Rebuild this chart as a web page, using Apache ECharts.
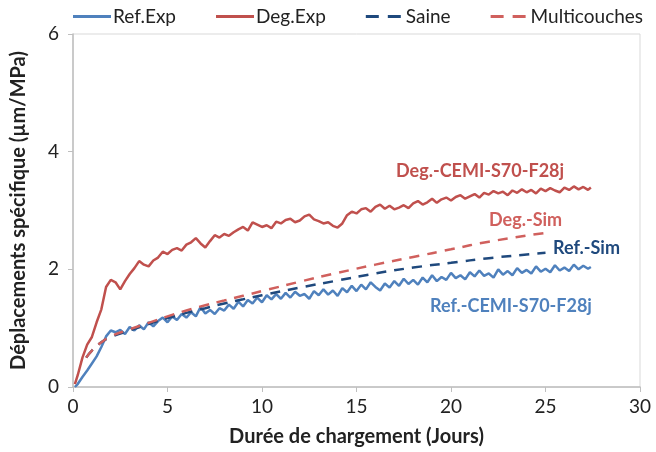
<!DOCTYPE html>
<html>
<head>
<meta charset="utf-8">
<script src="https://cdn.jsdelivr.net/npm/echarts@6/dist/echarts.min.js"></script>
<style>html,body{margin:0;padding:0;background:#fff;}#c{width:656px;height:452px;}</style>
</head>
<body>
<div id="c"></div>
<script>
// Experimental time grid (days)
const expDays = [0.1,0.25,0.5,0.75,1,1.25,1.5,1.75,2,2.25,2.5,2.75,3,3.25,3.5,3.75,4,4.25,4.5,4.75,5,5.25,5.5,5.75,6,6.25,6.5,6.75,7,7.25,7.5,7.75,8,8.25,8.5,8.75,9,9.25,9.5,9.75,10,10.25,10.5,10.75,11,11.25,11.5,11.75,12,12.25,12.5,12.75,13,13.25,13.5,13.75,14,14.25,14.5,14.75,15,15.25,15.5,15.75,16,16.25,16.5,16.75,17,17.25,17.5,17.75,18,18.25,18.5,18.75,19,19.25,19.5,19.75,20,20.25,20.5,20.75,21,21.25,21.5,21.75,22,22.25,22.5,22.75,23,23.25,23.5,23.75,24,24.25,24.5,24.75,25,25.25,25.5,25.75,26,26.25,26.5,26.75,27,27.25,27.4];
const refExp = [0.0,0.05,0.17,0.28,0.4,0.52,0.68,0.86,0.96,0.93,0.97,0.9,1.02,0.96,1.05,0.98,1.1,1.03,1.12,1.18,1.1,1.2,1.14,1.24,1.18,1.27,1.2,1.36,1.25,1.31,1.24,1.34,1.3,1.4,1.33,1.45,1.37,1.48,1.42,1.52,1.44,1.56,1.49,1.58,1.5,1.6,1.52,1.62,1.55,1.58,1.5,1.63,1.56,1.66,1.57,1.64,1.55,1.68,1.61,1.72,1.63,1.74,1.66,1.78,1.7,1.64,1.76,1.69,1.8,1.72,1.84,1.75,1.82,1.74,1.86,1.78,1.9,1.8,1.87,1.82,1.94,1.85,1.9,1.83,1.95,1.88,1.98,1.89,1.93,1.86,2.0,1.91,1.97,1.9,2.02,1.94,1.99,1.93,2.05,1.96,2.01,1.95,2.07,1.98,2.03,1.97,2.08,2.0,2.06,2.01,2.04];
const degExp = [0.05,0.2,0.5,0.72,0.85,1.1,1.32,1.7,1.82,1.78,1.66,1.8,1.92,2.02,2.14,2.08,2.05,2.15,2.2,2.3,2.26,2.33,2.36,2.32,2.42,2.46,2.53,2.44,2.37,2.48,2.58,2.54,2.6,2.57,2.63,2.68,2.72,2.66,2.8,2.76,2.72,2.75,2.7,2.81,2.78,2.84,2.86,2.8,2.83,2.9,2.93,2.85,2.82,2.78,2.8,2.74,2.71,2.78,2.92,2.98,2.95,3.02,3.04,2.98,3.06,3.1,3.03,3.08,3.02,3.05,3.09,3.04,3.12,3.16,3.1,3.14,3.2,3.13,3.19,3.22,3.17,3.23,3.26,3.2,3.24,3.28,3.22,3.3,3.27,3.33,3.29,3.32,3.26,3.34,3.3,3.36,3.31,3.35,3.29,3.37,3.33,3.38,3.34,3.31,3.39,3.35,3.41,3.36,3.4,3.35,3.39];
// Simulations
const simDays = [0.7,1,1.5,2,3,4,5,6,7,8,9,10,12,14,16,18,20,22,25];
const saine = [0.5,0.62,0.76,0.85,0.96,1.07,1.17,1.26,1.34,1.42,1.49,1.56,1.69,1.81,1.93,2.03,2.11,2.19,2.28];
const multicouches = [0.5,0.62,0.76,0.86,0.98,1.09,1.2,1.3,1.39,1.47,1.55,1.63,1.79,1.94,2.08,2.21,2.34,2.47,2.62];
const seriesNames = ['Ref.Exp','Deg.Exp','Saine','Multicouches'];
const xTitle = 'Durée de chargement (Jours)';
const yTitle = 'Déplacements spécifique (µm/MPa)';

const C_BLUE = '#4F81BD', C_RED = '#C0504D', C_NAVY = '#1F497D', C_RED2 = '#D0605D';
const FONT = 'Lato';
const zip = (xs, ys) => xs.map((x, i) => [x, ys[i]]);
const ICON_SOLID = 'path://M0,0H38V3H0Z';
const ICON_DASH = 'path://M0,0H13V3H0Z M22,0H35V3H22Z M38,0H38V3H38Z';

const chart = echarts.init(document.getElementById('c'), null, {renderer: 'canvas'});
chart.setOption({
  animation: false,
  textStyle: {fontFamily: FONT},
  grid: {left: 73, right: 16, top: 34, bottom: 63, show: true, borderColor: '#d9d9d9', borderWidth: 1},
  legend: {
    top: 2, left: 68, itemWidth: 38, itemHeight: 3, itemGap: 40,
    textStyle: {fontFamily: FONT, fontSize: 19, color: '#222', padding: [0, 0, 0, -3]},
    data: [
      {name: seriesNames[0], icon: ICON_SOLID},
      {name: seriesNames[1], icon: ICON_SOLID},
      {name: seriesNames[2], icon: ICON_DASH},
      {name: seriesNames[3], icon: ICON_DASH}
    ]
  },
  xAxis: {
    type: 'value', min: 0, max: 30, interval: 5,
    name: xTitle, nameLocation: 'middle', nameGap: 40,
    nameTextStyle: {fontFamily: FONT, fontSize: 20, fontWeight: 'bold', color: '#222'},
    axisLine: {lineStyle: {color: '#bfbfbf', width: 1.5}},
    axisTick: {show: true, length: 5, lineStyle: {color: '#bfbfbf'}},
    axisLabel: {fontFamily: FONT, fontSize: 19, color: '#222', margin: 10},
    splitLine: {show: false}
  },
  yAxis: {
    type: 'value', min: 0, max: 6, interval: 2,
    name: yTitle, nameLocation: 'middle', nameGap: 44, nameRotate: 90,
    nameTextStyle: {fontFamily: FONT, fontSize: 20, fontWeight: 'bold', color: '#222'},
    axisLine: {show: true, lineStyle: {color: '#bfbfbf', width: 1.5}},
    axisTick: {show: true, length: 5, lineStyle: {color: '#bfbfbf'}},
    axisLabel: {fontFamily: FONT, fontSize: 19, color: '#222', margin: 14},
    splitLine: {show: false}
  },
  series: [
    {name: seriesNames[0], type: 'line', data: zip(expDays, refExp), showSymbol: false, symbol: 'none',
      lineStyle: {color: C_BLUE, width: 2.5}, itemStyle: {color: C_BLUE}, z: 3},
    {name: seriesNames[1], type: 'line', data: zip(expDays, degExp), showSymbol: false, symbol: 'none',
      lineStyle: {color: C_RED, width: 2.5}, itemStyle: {color: C_RED}, z: 3},
    {name: seriesNames[2], type: 'line', data: zip(simDays, saine), showSymbol: false, symbol: 'none', smooth: true,
      lineStyle: {color: C_NAVY, width: 2.5, type: [10, 8]}, itemStyle: {color: C_NAVY}, z: 4},
    {name: seriesNames[3], type: 'line', data: zip(simDays, multicouches), showSymbol: false, symbol: 'none', smooth: true,
      lineStyle: {color: C_RED2, width: 2.5, type: [10, 8]}, itemStyle: {color: C_RED2}, z: 4}
  ],
  graphic: [
    {type: 'text', left: 396, top: 162, style: {text: 'Deg.-CEMI-S70-F28j', fill: C_RED, font: 'bold 18px ' + FONT}},
    {type: 'text', left: 489, top: 211, style: {text: 'Deg.-Sim', fill: C_RED2, font: 'bold 18px ' + FONT}},
    {type: 'text', left: 553, top: 239, style: {text: 'Ref.-Sim', fill: C_NAVY, font: 'bold 18px ' + FONT}},
    {type: 'text', left: 430, top: 297, style: {text: 'Ref.-CEMI-S70-F28j', fill: C_BLUE, font: 'bold 18px ' + FONT}}
  ]
});
</script>
</body>
</html>
